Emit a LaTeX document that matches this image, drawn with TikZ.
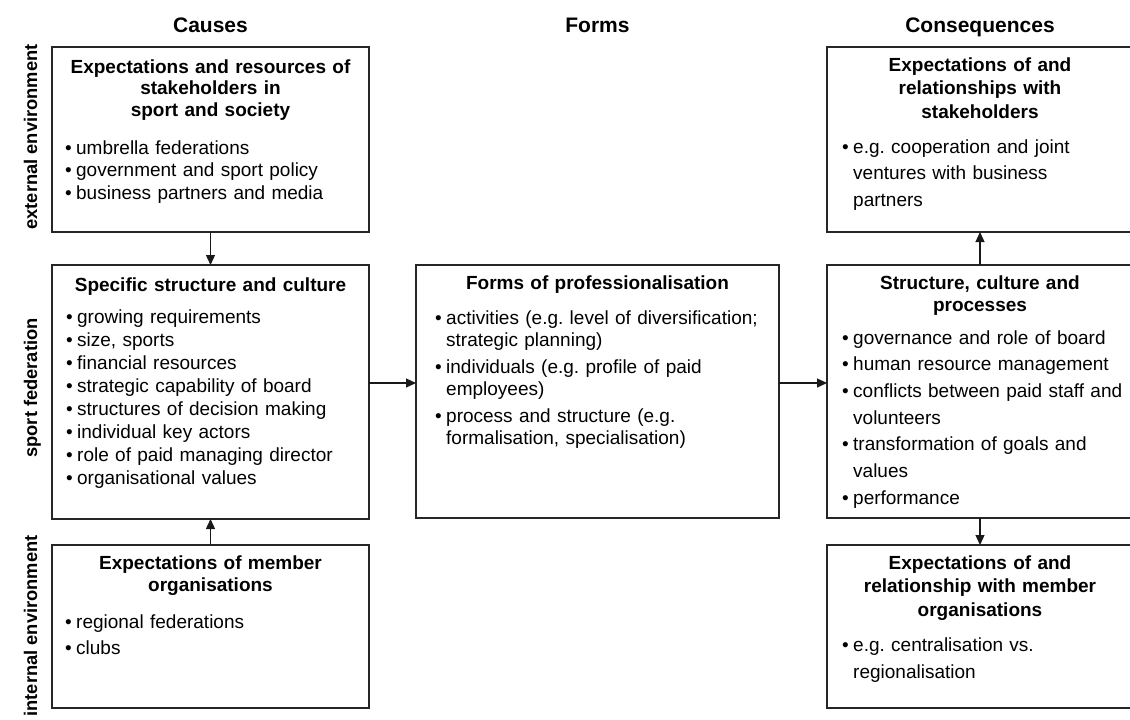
\documentclass[tikz,border=0pt]{standalone}
\usepackage{fontspec}
\setmainfont{Liberation Sans}
\usetikzlibrary{arrows.meta}
\frenchspacing
\newcommand\bitem[1]{\noindent\hangindent=11pt\hangafter=1\makebox[11pt][l]{•}#1\par}
\begin{document}
\begin{tikzpicture}[x=1pt,y=-1pt,
  box/.style={draw=black!85, line width=1.2pt, anchor=north west, inner sep=0pt, outer sep=0pt},
  head/.style={anchor=base, inner sep=0pt, align=center, text width=300pt, font=\bfseries\fontsize{19}{#1}\selectfont},
  blist/.style={anchor=base west, inner sep=0pt, text width=330pt, font=\fontsize{19}{#1}\selectfont\frenchspacing},
  coltitle/.style={anchor=base, inner sep=0pt, font=\bfseries\fontsize{21}{25}\selectfont},
  side/.style={rotate=90, anchor=base, inner sep=0pt, font=\bfseries\fontsize{18.3}{22}\selectfont},
  arr/.style={-{Triangle[length=10pt,width=9pt]}, line width=1.2pt, draw=black!90}
]
\fill[white] (0,0) rectangle (1130,720);
\useasboundingbox (0,0) rectangle (1130,720);
\clip (0,0) rectangle (1130,720);

% column titles
\node[coltitle] (tc) at (210.5,32) {Causes};
\node[coltitle] (tf) at (597.5,32) {Forms};
\node[coltitle] (tq) at (980,32) {Consequences};

% side labels
\node[side] (se) at (37,137) {external environment};
\node[side] (ss) at (37,388) {sport federation};
\node[side] (si) at (37,626) {internal environment};

% boxes
\node[box, minimum width=317, minimum height=185] (b1) at (52,47) {};
\node[box, minimum width=317, minimum height=254] (b2) at (52,265) {};
\node[box, minimum width=317, minimum height=163] (b3) at (52,545) {};
\node[box, minimum width=363, minimum height=253] (fp) at (416,265) {};
\node[box, minimum width=306, minimum height=185] (c1) at (827,47) {};
\node[box, minimum width=306, minimum height=253] (c2) at (827,265) {};
\node[box, minimum width=306, minimum height=163] (c3) at (827,545) {};

% texts: causes
\node[head=21.5] (h1) at (210.5,73) {Expectations and resources of\\ stakeholders in\\ sport and society};
\node[blist=22.5] (l1) at (65,154) {\bitem{umbrella federations}\bitem{government and sport policy}\bitem{business partners and media}};

\node[head=22] (h2) at (210.5,291) {Specific structure and culture};
\node[blist=23] (l2) at (66,323) {\bitem{growing requirements}\bitem{size, sports}\bitem{financial resources}\bitem{strategic capability of board}\bitem{structures of decision making}\bitem{individual key actors}\bitem{role of paid managing director}\bitem{organisational values}};

\node[head=22] (h3) at (210.5,569) {Expectations of member\\ organisations};
\node[blist=26] (l3) at (65,628) {\bitem{regional federations}\bitem{clubs}};

% forms
\node[head=22] (hf) at (597.5,289) {Forms of professionalisation};
\node[blist=22] (lf) at (435,324) {\setlength{\parskip}{5pt}\bitem{activities (e.g. level of diversification;\newline strategic planning)}\bitem{individuals (e.g. profile of paid\newline employees)}\bitem{process and structure (e.g.\newline formalisation, specialisation)}};

% consequences
\node[head=23.5] (hc1) at (980,71) {Expectations of and\\ relationships with\\ stakeholders};
\node[blist=26.5] (lc1) at (842,153) {\bitem{e.g. cooperation and joint\newline ventures with business\newline partners}};

\node[head=22] (hc2) at (980,289) {Structure, culture and\\ processes};
\node[blist=26.7] (lc2) at (842,344) {\bitem{governance and role of board}\bitem{human resource management}\bitem{conflicts between paid staff and\newline volunteers}\bitem{transformation of goals and\newline values}\bitem{performance}};

\node[head=23.5] (hc3) at (980,569) {Expectations of and\\ relationship with member\\ organisations};
\node[blist=27] (lc3) at (842,651) {\bitem{e.g. centralisation vs.\newline regionalisation}};

% connectors
\coordinate (ya) at (0,383);
\draw[arr] (b1.south) -- (b2.north);
\draw[arr] (b3.north) -- (b2.south);
\draw[arr] (b2.east |- ya) -- (fp.west |- ya);
\draw[arr] (fp.east |- ya) -- (c2.west |- ya);
\draw[arr] (c2.north) -- (c1.south);
\draw[arr] (c2.south) -- (c3.north);
\end{tikzpicture}
\end{document}
